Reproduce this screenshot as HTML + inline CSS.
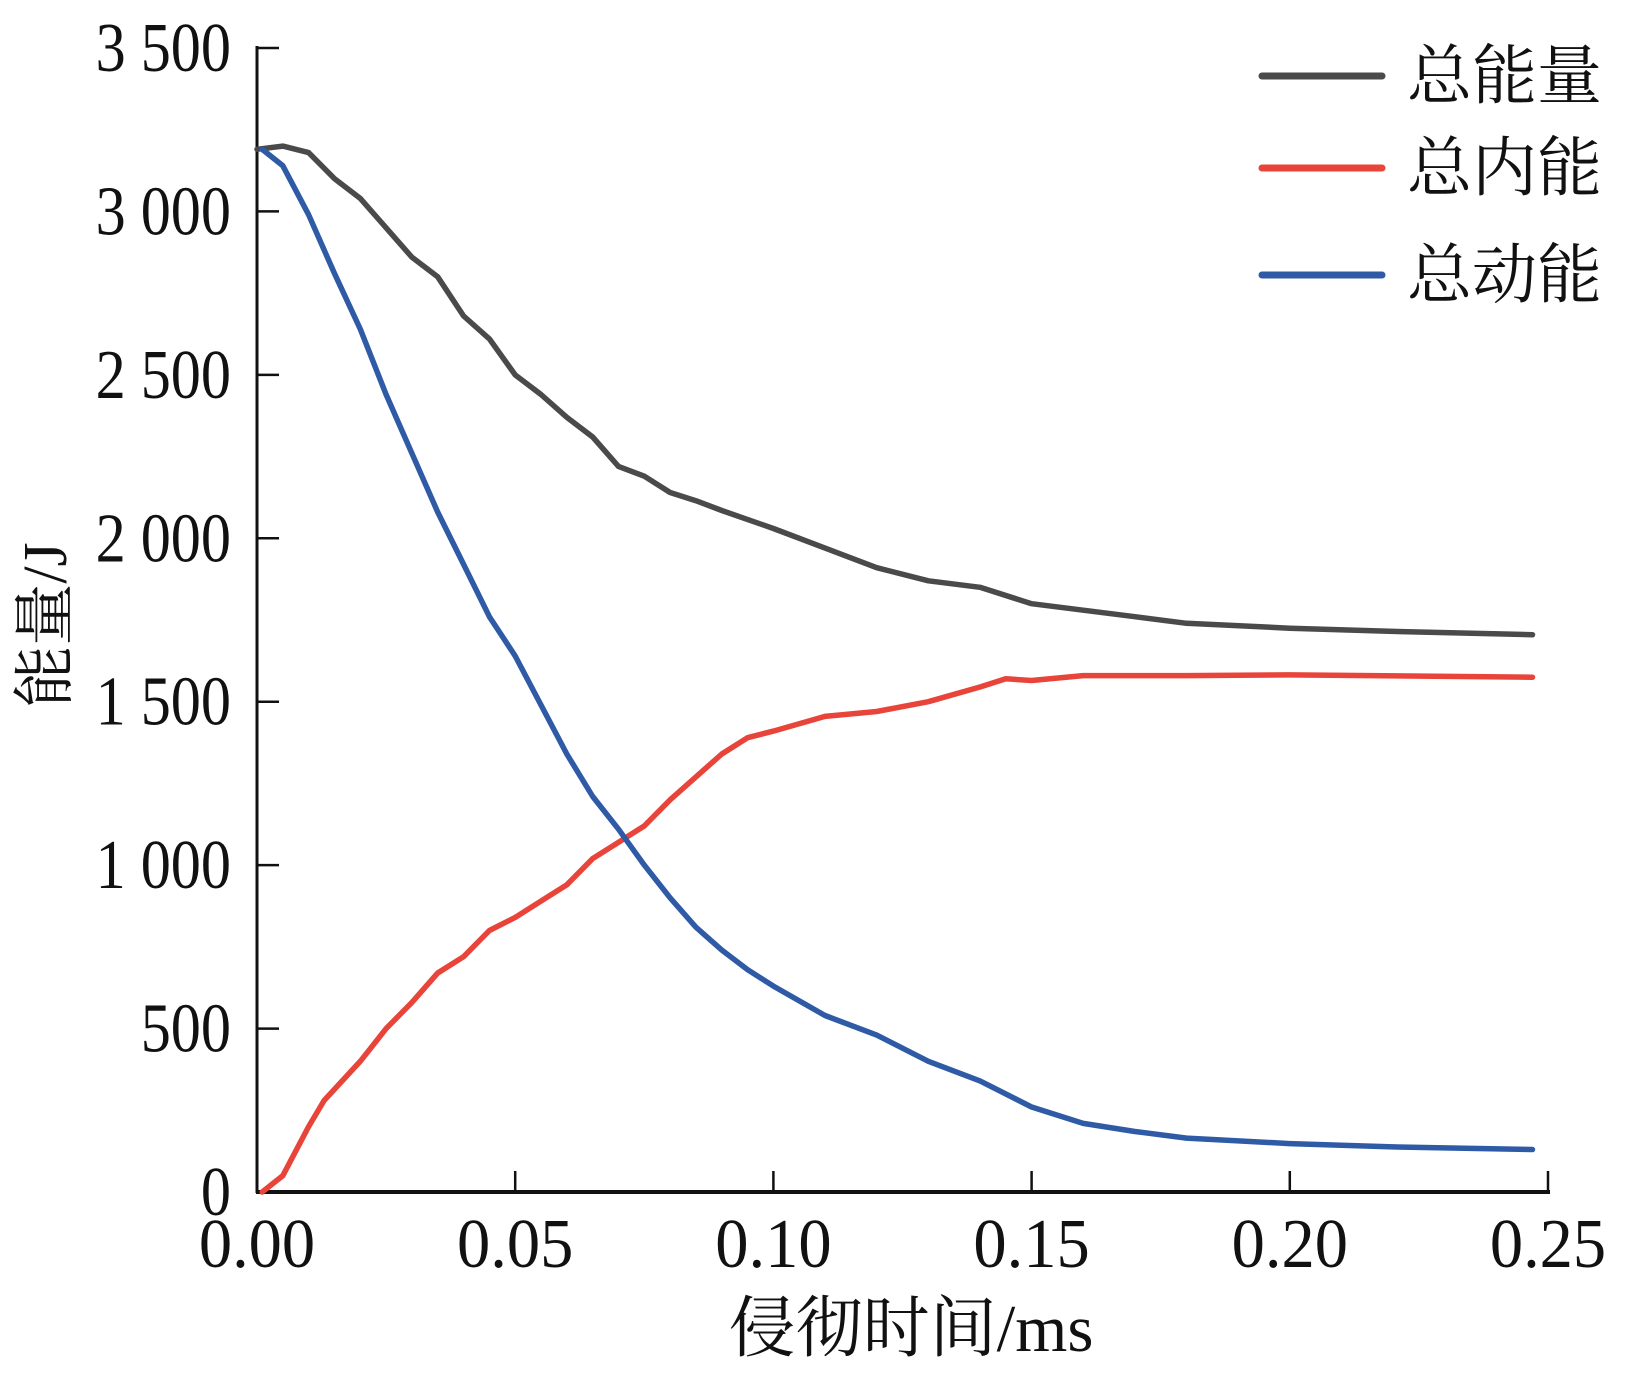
<!DOCTYPE html>
<html><head><meta charset="utf-8"><style>
html,body{margin:0;padding:0;background:#fff;}
svg text{font-family:"Liberation Serif","Noto Serif CJK SC",serif;fill:#111;}
</style></head><body>
<svg id="s" width="1642" height="1373" viewBox="0 0 1642 1373" xmlns="http://www.w3.org/2000/svg">
<g stroke="#111" stroke-width="3" fill="none">
<line x1="257" y1="46" x2="257" y2="1193"/>
<line x1="256" y1="1192" x2="1550" y2="1192" stroke-width="4"/>
</g>
<g id="ticks" stroke="#111" stroke-width="2.5"></g>
<g id="labels" font-size="70" text-anchor="end"></g>
<g id="xlabels" font-size="70" text-anchor="middle"></g>
<text x="911" y="1351" font-size="67" text-anchor="middle">侵彻时间/ms</text>
<text transform="translate(66,625) rotate(-90)" font-size="62" text-anchor="middle">能量/J</text>
<g id="series" fill="none" stroke-linejoin="round" stroke-linecap="round"></g>
<g stroke-width="7" stroke-linecap="round">
<line x1="1262" y1="76" x2="1382" y2="76" stroke="#4a4a4a"/>
<line x1="1262" y1="168" x2="1382" y2="168" stroke="#e8443a"/>
<line x1="1262" y1="275" x2="1382" y2="275" stroke="#2f5aa6"/>
</g>
<g font-size="65">
<text x="1407" y="98">总能量</text>
<text x="1407" y="190">总内能</text>
<text x="1407" y="297">总动能</text>
</g>
</svg>
<script>
var NS="http://www.w3.org/2000/svg";
function X(t){return 257+t/0.25*1291;}
function Y(v){return 1192-v*1144/3500;}
function el(p,tag,a,txt){var e=document.createElementNS(NS,tag);for(var k in a)e.setAttribute(k,a[k]);if(txt!=null)e.textContent=txt;document.getElementById(p).appendChild(e);return e;}
var yl=["0","500","1 000","1 500","2 000","2 500","3 000","3 500"];
for(var i=0;i<8;i++){var y=Y(i*500);if(i>0)el("ticks","line",{x1:257,y1:y,x2:279,y2:y});el("labels","text",{x:0,y:0,transform:"translate(231,"+(y+23)+") scale(0.86,1)"},yl[i]);}
var xl=["0.00","0.05","0.10","0.15","0.20","0.25"];
for(var i=0;i<6;i++){var x=X(i*0.05);if(i>0)el("ticks","line",{x1:x,y1:1192,x2:x,y2:1171});el("xlabels","text",{x:0,y:0,transform:"translate("+x+",1267) scale(0.95,1)"},xl[i]);}
var black=[[0,3190],[0.005,3200],[0.01,3180],[0.015,3100],[0.02,3040],[0.025,2950],[0.03,2860],[0.035,2800],[0.04,2680],[0.045,2610],[0.05,2500],[0.055,2440],[0.06,2370],[0.065,2310],[0.07,2220],[0.075,2190],[0.08,2140],[0.085,2115],[0.09,2085],[0.1,2030],[0.11,1970],[0.12,1910],[0.13,1870],[0.14,1850],[0.15,1800],[0.16,1780],[0.17,1760],[0.18,1740],[0.2,1725],[0.22,1715],[0.247,1705]];
var red=[[0.001,0],[0.005,50],[0.01,200],[0.013,280],[0.02,400],[0.025,500],[0.03,580],[0.035,670],[0.04,720],[0.045,800],[0.05,840],[0.055,890],[0.06,940],[0.065,1020],[0.07,1070],[0.075,1120],[0.08,1200],[0.085,1270],[0.09,1340],[0.095,1390],[0.1,1410],[0.11,1455],[0.12,1470],[0.13,1500],[0.14,1545],[0.145,1570],[0.15,1565],[0.16,1580],[0.18,1580],[0.2,1582],[0.247,1575]];
var blue=[[0.001,3190],[0.005,3140],[0.01,2990],[0.015,2810],[0.02,2640],[0.025,2440],[0.03,2260],[0.035,2080],[0.04,1920],[0.045,1760],[0.05,1640],[0.055,1490],[0.06,1340],[0.065,1210],[0.07,1110],[0.075,1000],[0.08,900],[0.085,810],[0.09,740],[0.095,680],[0.1,630],[0.11,540],[0.12,480],[0.13,400],[0.14,340],[0.15,260],[0.16,210],[0.17,185],[0.18,165],[0.2,148],[0.22,138],[0.247,130]];
function pts(a){return a.map(function(p){return X(p[0]).toFixed(1)+","+Y(p[1]).toFixed(1);}).join(" ");}
el("series","polyline",{points:pts(black),stroke:"#4a4a4a","stroke-width":5.5});
el("series","polyline",{points:pts(red),stroke:"#e8443a","stroke-width":5.5});
el("series","polyline",{points:pts(blue),stroke:"#2f5aa6","stroke-width":5.5});
</script>
</body></html>
